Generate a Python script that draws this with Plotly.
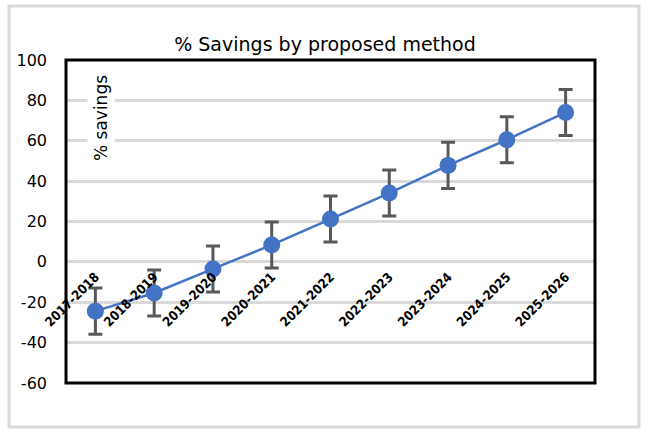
import plotly.graph_objects as go

categories = ["2017-2018", "2018-2019", "2019-2020", "2020-2021", "2021-2022",
              "2022-2023", "2023-2024", "2024-2025", "2025-2026"]
savings = [-24.4, -15.4, -3.5, 8.4, 21.2, 34.1, 47.8, 60.5, 74.0]
errors = [11.4, 11.4, 11.4, 11.4, 11.4, 11.4, 11.4, 11.4, 11.4]
y_tickvals = [-60, -40, -20, 0, 20, 40, 60, 80, 100]
y_ticktext = ["-60", "-40", "-20", "0", "20", "40", "60", "80", "100"]
title_text = "% Savings by proposed method"
y_title = "% savings"

YMIN, YMAX = -60, 100
W, H = 650, 436
ML, MR, MT, MB = 66, 55, 60, 53
PW, PH = W - ML - MR, H - MT - MB

fig = go.Figure()
fig.add_trace(go.Scatter(
    x=categories, y=savings, mode="lines+markers",
    line=dict(color="#4472c4", width=2.5),
    marker=dict(color="#4472c4", size=17),
    error_y=dict(type="data", array=errors, visible=True,
                 color="#595959", thickness=3, width=7),
    showlegend=False,
))

fig.update_layout(
    width=W, height=H,
    margin=dict(l=ML, r=MR, t=MT, b=MB, pad=0),
    paper_bgcolor="white", plot_bgcolor="white",
    font=dict(family="DejaVu Sans", color="black"),
    title=dict(text=title_text, x=0.5, xref="container", xanchor="center",
               y=1 - 44 / H, yref="container", yanchor="middle",
               font=dict(family="DejaVu Sans", size=19, color="black")),
    xaxis=dict(
        type="category", range=[-0.5, len(categories) - 0.5],
        anchor="free", position=(0 - YMIN) / (YMAX - YMIN),
        showline=False, showgrid=False, zeroline=False, ticks="",
        tickangle=-45, ticklabelstandoff=4,
        tickfont=dict(family="DejaVu Sans Condensed, DejaVu Sans", size=13,
                      color="black", weight="bold"),
    ),
    yaxis=dict(
        range=[YMIN, YMAX], tickvals=y_tickvals, ticktext=y_ticktext,
        showgrid=True, gridcolor="#d9d9d9", gridwidth=3,
        zeroline=False, showline=False, ticks="",
        ticklabelstandoff=18,
        tickfont=dict(family="DejaVu Sans", size=16, color="black"),
    ),
)

# rotated axis title drawn inside the plot area, as in the reference
fig.add_annotation(
    text=y_title, textangle=-90, showarrow=False,
    xref="paper", yref="paper", x=(101 - ML) / PW, y=(H - MB - 118) / PH,
    xanchor="center", yanchor="middle",
    font=dict(family="DejaVu Sans", size=17, color="black"),
    bgcolor="white", borderpad=3,
)

# plot-area border
fig.add_shape(type="rect", xref="paper", yref="paper", x0=0, x1=1, y0=0, y1=1,
              line=dict(color="black", width=3), layer="above")
# outer chart border
fig.add_shape(type="rect", xref="paper", yref="paper",
              x0=(9 - ML) / PW, x1=(639 - ML) / PW,
              y0=(H - MB - 427) / PH, y1=(H - MB - 6) / PH,
              line=dict(color="#d9d9d9", width=3), layer="below")

fig.write_html("out.html", config={"displayModeBar": False},
               post_script="document.body.style.margin='0';document.body.style.overflow='hidden';")
